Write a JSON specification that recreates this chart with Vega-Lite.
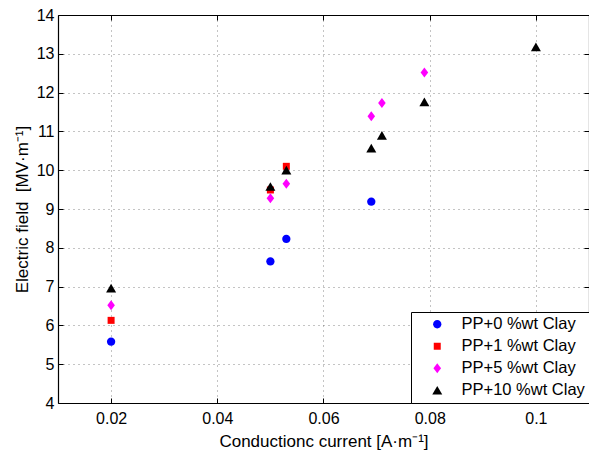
{
  "$schema": "https://vega.github.io/schema/vega-lite/v6.json",
  "width": 531,
  "height": 388,
  "autosize": {"type": "none"},
  "padding": {"left": 58, "top": 15, "right": 0, "bottom": 49},
  "background": "white",
  "config": {
    "font": "Liberation Sans",
    "view": {"stroke": null},
    "axis": {
      "labelFont": "Liberation Sans",
      "titleFont": "Liberation Sans",
      "labelFontSize": 16,
      "titleFontSize": 17,
      "titleFontWeight": "normal",
      "labelColor": "black",
      "titleColor": "black",
      "domainColor": "black",
      "domainWidth": 1.2,
      "tickColor": "black",
      "gridColor": "#555555",
      "gridDash": [1, 4],
      "gridWidth": 1,
      "gridOpacity": 0.7
    },
    "legend": {
      "labelFont": "Liberation Sans",
      "labelFontSize": 16.5,
      "labelColor": "black"
    }
  },
  "data": {
    "values": [
      {"current": 0.02, "field": 5.58, "series": "PP+0 %wt Clay"},
      {"current": 0.05, "field": 7.65, "series": "PP+0 %wt Clay"},
      {"current": 0.053, "field": 8.23, "series": "PP+0 %wt Clay"},
      {"current": 0.069, "field": 9.19, "series": "PP+0 %wt Clay"},
      {"current": 0.02, "field": 6.13, "series": "PP+1 %wt Clay"},
      {"current": 0.05, "field": 9.49, "series": "PP+1 %wt Clay"},
      {"current": 0.053, "field": 10.1, "series": "PP+1 %wt Clay"},
      {"current": 0.02, "field": 6.52, "series": "PP+5 %wt Clay"},
      {"current": 0.05, "field": 9.28, "series": "PP+5 %wt Clay"},
      {"current": 0.053, "field": 9.65, "series": "PP+5 %wt Clay"},
      {"current": 0.069, "field": 11.39, "series": "PP+5 %wt Clay"},
      {"current": 0.071, "field": 11.73, "series": "PP+5 %wt Clay"},
      {"current": 0.079, "field": 12.52, "series": "PP+5 %wt Clay"},
      {"current": 0.02, "field": 6.96, "series": "PP+10 %wt Clay"},
      {"current": 0.05, "field": 9.58, "series": "PP+10 %wt Clay"},
      {"current": 0.053, "field": 10.0, "series": "PP+10 %wt Clay"},
      {"current": 0.069, "field": 10.57, "series": "PP+10 %wt Clay"},
      {"current": 0.071, "field": 10.9, "series": "PP+10 %wt Clay"},
      {"current": 0.079, "field": 11.76, "series": "PP+10 %wt Clay"},
      {"current": 0.1, "field": 13.18, "series": "PP+10 %wt Clay"}
    ]
  },
  "layer": [
    {
      "mark": {"type": "point", "filled": true, "opacity": 1, "strokeWidth": 0, "size": 100},
      "encoding": {
        "x": {
          "field": "current",
          "type": "quantitative",
          "scale": {"domain": [0.01, 0.11], "nice": false, "zero": false},
          "axis": {
            "orient": "bottom",
            "title": "Conductionc current [A·m⁻¹]",
            "values": [0.02, 0.04, 0.06, 0.08, 0.1],
            "format": ".2~f",
            "grid": true,
            "tickSize": -5,
            "labelPadding": 12,
            "titleY": 43,
            "titleBaseline": "alphabetic"
          }
        },
        "y": {
          "field": "field",
          "type": "quantitative",
          "scale": {"domain": [4, 14], "nice": false, "zero": false},
          "axis": {
            "orient": "left",
            "title": "Electric field\u00a0 [MV·m⁻¹]",
            "values": [4, 5, 6, 7, 8, 9, 10, 11, 12, 13, 14],
            "grid": true,
            "tickSize": -5,
            "labelPadding": 9,
            "titleX": -31,
            "titleBaseline": "alphabetic"
          }
        },
        "color": {
          "field": "series",
          "type": "nominal",
          "scale": {
            "domain": ["PP+0 %wt Clay", "PP+1 %wt Clay", "PP+5 %wt Clay", "PP+10 %wt Clay"],
            "range": ["#0000ff", "#ff0000", "#ff00ff", "#000000"]
          },
          "legend": {
            "title": null,
            "orient": "bottom-right",
            "offset": 0,
            "strokeColor": "black",
            "fillColor": "white",
            "padding": 4,
            "symbolOffset": 14,
            "labelOffset": 16,
            "rowPadding": 5,
            "symbolSize": 100,
            "symbolStrokeWidth": 0,
            "cornerRadius": 0
          }
        },
        "shape": {
          "field": "series",
          "type": "nominal",
          "scale": {
            "domain": ["PP+0 %wt Clay", "PP+1 %wt Clay", "PP+5 %wt Clay", "PP+10 %wt Clay"],
            "range": [
              "M-0.83,0A0.83,0.83,0,1,0,0.83,0A0.83,0.83,0,1,0,-0.83,0Z",
              "M-0.7,-0.7L0.7,-0.7L0.7,0.7L-0.7,0.7Z",
              "M0,-1L0.76,0L0,1L-0.76,0Z",
              "M0,-0.87L1,0.87L-1,0.87Z"
            ]
          },
          "legend": null
        }
      }
    },
    {
      "mark": {"type": "point", "opacity": 0},
      "encoding": {
        "x": {
          "field": "current",
          "type": "quantitative",
          "axis": {"orient": "top", "title": null, "labels": false, "grid": false, "tickSize": -5, "values": [0.02, 0.04, 0.06, 0.08, 0.1]}
        },
        "y": {
          "field": "field",
          "type": "quantitative",
          "axis": {"orient": "right", "title": null, "labels": false, "grid": false, "tickSize": -5, "values": [4, 5, 6, 7, 8, 9, 10, 11, 12, 13, 14]}
        }
      }
    }
  ],
  "resolve": {"axis": {"x": "independent", "y": "independent"}}
}
